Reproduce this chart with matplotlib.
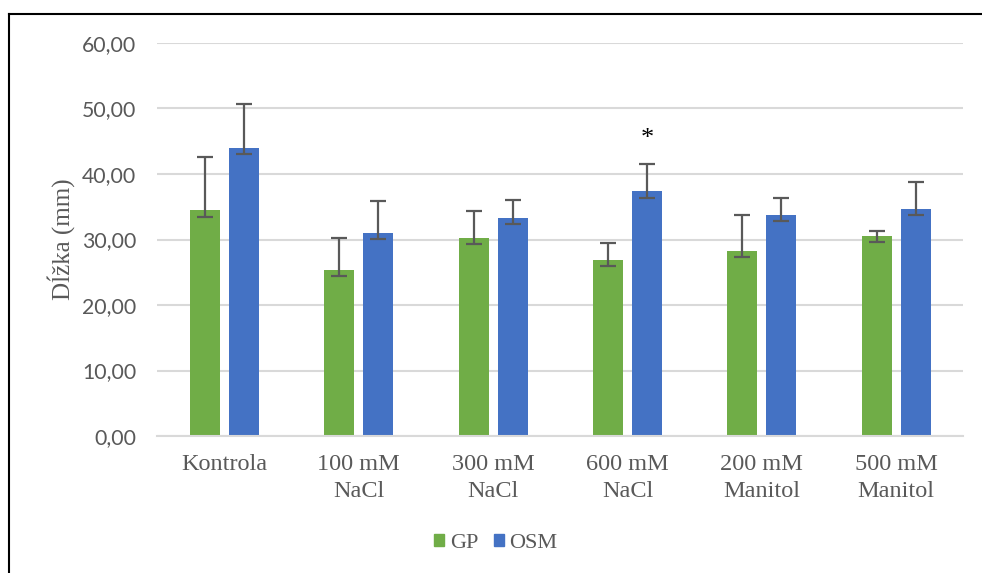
import matplotlib
matplotlib.use("Agg")
import matplotlib.pyplot as plt
import numpy as np
from matplotlib.lines import Line2D
from matplotlib.patches import Patch

categories = ["Kontrola", "100 mM\nNaCl", "300 mM\nNaCl", "600 mM\nNaCl", "200 mM\nManitol", "500 mM\nManitol"]
gp_values = [34.5, 25.3, 30.3, 26.9, 28.3, 30.6]
gp_err_low = [1.0, 0.9, 1.0, 0.9, 0.9, 1.0]
gp_err_high = [8.1, 4.9, 4.1, 2.6, 5.4, 0.7]
osm_values = [44.0, 31.0, 33.3, 37.4, 33.8, 34.7]
osm_err_low = [1.0, 0.9, 1.0, 1.1, 1.0, 1.0]
osm_err_high = [6.7, 4.9, 2.7, 4.2, 2.6, 4.1]
yticks = [0, 10, 20, 30, 40, 50, 60]
ytick_labels = ["0,00", "10,00", "20,00", "30,00", "40,00", "50,00", "60,00"]

GREEN = "#70AD47"
BLUE = "#4472C4"
GRAY = "#595959"

fig = plt.figure(figsize=(9.82, 5.73), dpi=100)
ax = fig.add_axes([0.160, 0.239, 0.821, 0.686])

x = np.arange(len(categories))
w = 0.223
off = 0.145
ax.bar(x - off, gp_values, w, color=GREEN, zorder=2)
ax.bar(x + off, osm_values, w, color=BLUE, zorder=2)
ekw = dict(fmt="none", ecolor=GRAY, elinewidth=1.6, capsize=6, capthick=1.6, zorder=3)
ax.errorbar(x - off, gp_values, yerr=[gp_err_low, gp_err_high], **ekw)
ax.errorbar(x + off, osm_values, yerr=[osm_err_low, osm_err_high], **ekw)

ax.text(x[3] + off, 45.4, "*", ha="center", va="center", fontsize=19,
        family="Liberation Serif", color="black")

ax.set_xlim(-0.5, len(categories) - 0.5)
ax.set_ylim(0, 60)
ax.set_yticks(yticks)
ax.set_yticklabels(ytick_labels, family="Lato", fontsize=15.3, color=GRAY)
ax.set_xticks(x)
ax.set_xticklabels(categories, family="Liberation Serif", fontsize=17.5, color=GRAY, linespacing=1.37)
ax.tick_params(axis="both", length=0)
ax.tick_params(axis="y", pad=15)
ax.tick_params(axis="x", pad=13)
ax.grid(axis="y", color="#d9d9d9", linewidth=1.5, zorder=0)
ax.set_axisbelow(True)
for s in ["top", "right", "left"]:
    ax.spines[s].set_visible(False)
ax.spines["bottom"].set_color("#d9d9d9")
ax.spines["bottom"].set_linewidth(1.5)

ax.set_ylabel("Dĺžka (mm)", family="Liberation Serif", fontsize=18, color=GRAY, labelpad=5)

handles = [Patch(color=GREEN, label="GP"), Patch(color=BLUE, label="OSM")]
fig.legend(handles=handles, loc="center", bbox_to_anchor=(496 / 982, 1 - 543 / 573), ncol=2,
           frameon=False, prop={"family": "Liberation Serif", "size": 16},
           handlelength=0.45, handleheight=0.45, handletextpad=0.25, columnspacing=0.7,
           labelcolor=GRAY)

# outer frame (left and top edges visible)
fig.add_artist(Line2D([9 / 982, 9 / 982], [0, 1 - 14 / 573], transform=fig.transFigure, color="black", lw=1.5))
fig.add_artist(Line2D([9 / 982, 1], [1 - 14 / 573, 1 - 14 / 573], transform=fig.transFigure, color="black", lw=1.5))

fig.savefig("out.png", dpi=100)
